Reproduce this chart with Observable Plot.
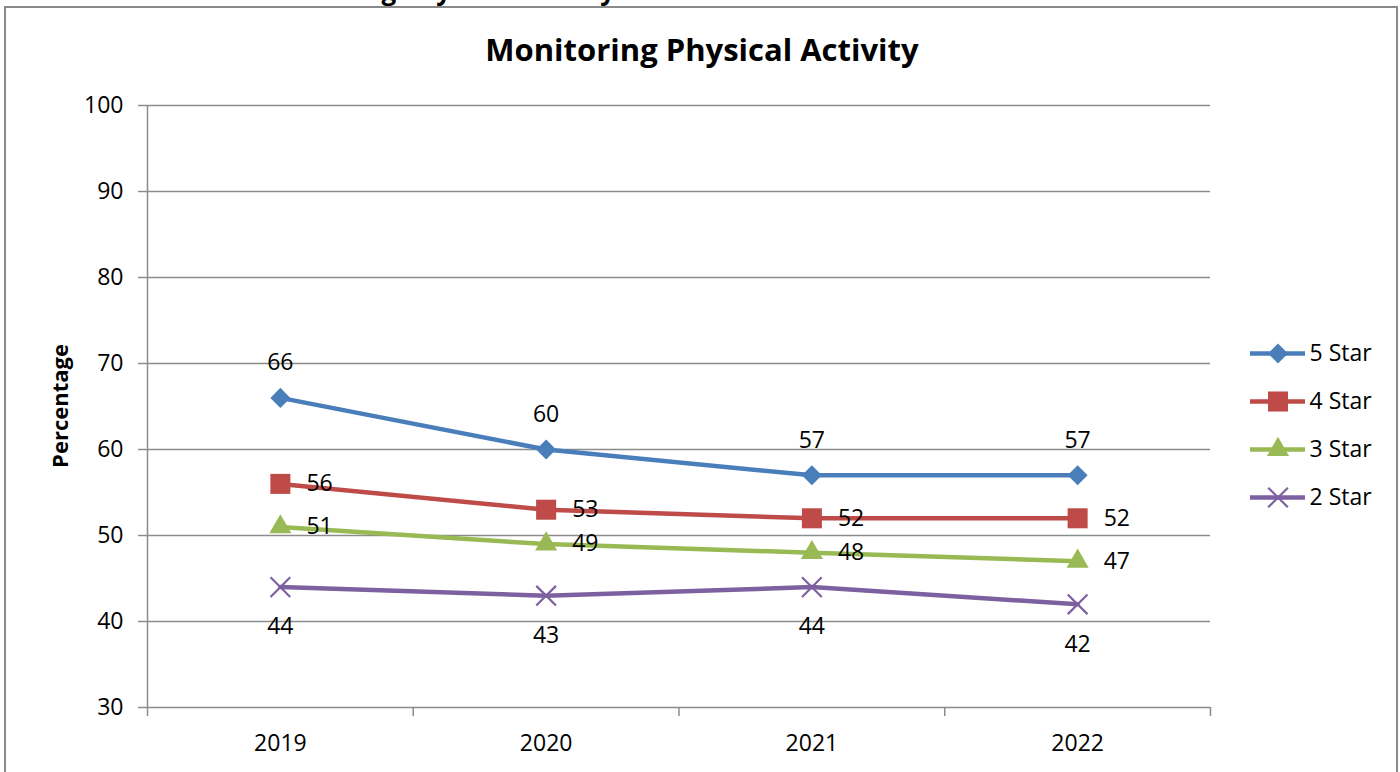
<!DOCTYPE html>
<html>
<head>
<meta charset="utf-8">
<script src="https://cdn.jsdelivr.net/npm/d3@7"></script>
<script src="https://cdn.jsdelivr.net/npm/@observablehq/plot@0.6"></script>
<style>
  html, body { margin: 0; padding: 0; background: #fff; }
  #wrap { position: relative; width: 1400px; height: 772px; overflow: hidden; font-family: "Open Sans", sans-serif; }
  #cut { position: absolute; right: 785px; top: -23px; font-size: 26px; line-height: 26px; font-weight: bold; white-space: nowrap; color: #000; }
  #frame { position: absolute; left: 4px; top: 6px; width: 1390px; height: 780px; border: 2px solid #8a8a8a; }
  #title { position: absolute; left: 0; width: 1404px; top: 28px; text-align: center; font-size: 31px; font-weight: bold; color: #000; }
  #ylabel { position: absolute; left: 59px; top: 406px; transform: translate(-50%, -50%) rotate(-90deg); font-size: 22px; font-weight: bold; white-space: nowrap; color: #000; }
  #chart { position: absolute; left: 0; top: 0; }
  #legend { position: absolute; left: 1240px; top: 329px; }
  svg text { font-family: "Open Sans", sans-serif; }
</style>
</head>
<body>
<div id="wrap">
  <div id="cut">Measure 11: Monitoring Physical Activity</div>
  <div id="frame"></div>
  <div id="chart"></div>
  <div id="title"></div>
  <div id="ylabel"></div>
  <div id="legend"></div>
</div>
<script>
// ---- data ----
const years = [2019, 2020, 2021, 2022];
const seriesNames = ["5 Star", "4 Star", "3 Star", "2 Star"];
const star5 = [66, 60, 57, 57];
const star4 = [56, 53, 52, 52];
const star3 = [51, 49, 48, 47];
const star2 = [44, 43, 44, 42];
const yTicks = [30, 40, 50, 60, 70, 80, 90, 100];
const yLabel = "Percentage";
const chartTitle = "Monitoring Physical Activity";

// ---- styles ----
const colors = {"5 Star": "#4a7ebb", "4 Star": "#be4b48", "3 Star": "#98b954", "2 Star": "#7d60a0"};
const markers = {
  "5 Star": {symbol: "square", r: 8, rotate: 45, fill: true},
  "4 Star": {symbol: "square", r: 11.3, rotate: 0, fill: true},
  "3 Star": {symbol: "triangle", r: 8.2, rotate: 0, fill: true},
  "2 Star": {symbol: "times", r: 9, rotate: 0, fill: false}
};
const labelPos = {
  "5 Star": {dx: 0, dy: -35, anchor: "middle"},
  "4 Star": {dx: 26, dy: 0, anchor: "start"},
  "3 Star": {dx: 26, dy: 0, anchor: "start"},
  "2 Star": {dx: 0, dy: 40, anchor: "middle"}
};
const gridColor = "#8c8c8c";
const FS = 23;

const valuesBySeries = {"5 Star": star5, "4 Star": star4, "3 Star": star3, "2 Star": star2};
const rows = seriesNames.flatMap(s => years.map((yr, i) => ({series: s, year: yr, value: valuesBySeries[s][i]})));
const bounds = years.map(y => y - 0.5).concat([years[years.length - 1] + 0.5]);

function markerMark(data, s, extra = {}) {
  const m = markers[s];
  return Plot.dot(data, {
    ...extra,
    symbol: () => m.symbol,
    r: m.r,
    rotate: m.rotate,
    fill: m.fill ? colors[s] : "none",
    stroke: colors[s],
    strokeWidth: m.fill ? 0 : 2.2
  });
}

const marks = [
  Plot.gridY({ticks: yTicks.filter(t => t > yTicks[0]), stroke: gridColor, strokeOpacity: 1, strokeWidth: 1.5}),
  Plot.ruleY([yTicks[0]], {stroke: gridColor, strokeWidth: 1.5}),
  Plot.ruleX([bounds[0]], {stroke: gridColor, strokeWidth: 1.5}),
  Plot.axisY({ticks: yTicks, tickSize: 9, tickPadding: 15, stroke: gridColor, strokeWidth: 1.5, fill: "#000", fontSize: FS, label: null}),
  Plot.axisX({ticks: bounds, tickSize: 9, tickFormat: () => "", stroke: gridColor, strokeWidth: 1.5, label: null}),
  Plot.axisX({ticks: years, tickSize: 0, tickPadding: 27, tickFormat: d => String(d), fill: "#000", fontSize: FS, label: null})
];
for (const s of seriesNames) {
  const d = rows.filter(r => r.series === s);
  marks.push(Plot.line(d, {x: "year", y: "value", stroke: colors[s], strokeWidth: 4.5}));
}
for (const s of seriesNames) {
  const d = rows.filter(r => r.series === s);
  marks.push(markerMark(d, s, {x: "year", y: "value"}));
  const lp = labelPos[s];
  marks.push(Plot.text(d, {x: "year", y: "value", text: d => String(d.value), dx: lp.dx, dy: lp.dy, textAnchor: lp.anchor, fontSize: FS, fill: "#000"}));
}

const chart = Plot.plot({
  width: 1400,
  height: 772,
  marginLeft: 147,
  marginRight: 190,
  marginTop: 105,
  marginBottom: 65,
  x: {type: "linear", domain: [bounds[0], bounds[bounds.length - 1]]},
  y: {domain: [yTicks[0], yTicks[yTicks.length - 1]]},
  style: {background: "transparent", fontFamily: "Open Sans, sans-serif"},
  marks
});
document.getElementById("chart").appendChild(chart);
document.getElementById("title").textContent = chartTitle;
document.getElementById("ylabel").textContent = yLabel;

// ---- legend ----
const legendMarks = [
  Plot.ruleY(seriesNames, {y: d => d, stroke: d => colors[d], strokeWidth: 4.5})
];
for (const s of seriesNames) legendMarks.push(markerMark([s], s, {y: d => d}));
legendMarks.push(Plot.text(seriesNames, {y: d => d, text: d => d, frameAnchor: "right", textAnchor: "start", dx: 4, fontSize: FS, fill: "#000"}));
const legend = Plot.plot({
  width: 160,
  height: 192,
  marginLeft: 10,
  marginRight: 95,
  marginTop: 0,
  marginBottom: 0,
  x: {domain: [0, 1], axis: null},
  y: {type: "point", domain: seriesNames, padding: 0.5, axis: null},
  color: {type: "identity"},
  style: {background: "transparent", fontFamily: "Open Sans, sans-serif", overflow: "visible"},
  marks: legendMarks
});
document.getElementById("legend").appendChild(legend);
</script>
</body>
</html>
